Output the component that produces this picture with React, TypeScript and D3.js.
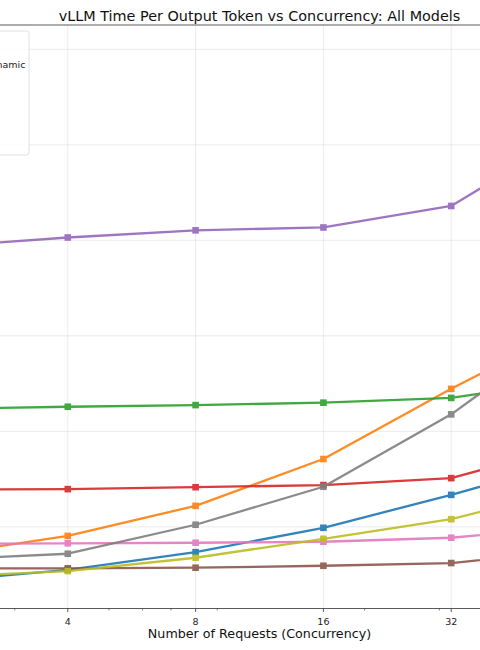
import React, { useEffect, useRef } from "react";
import * as d3 from "d3";

const concurrency = [2, 4, 8, 16, 32, 64];
const majorTicks = [2, 4, 8, 16, 32, 64];
const minorTicks = [3, 5, 6, 7, 9, 20, 30, 40, 50, 60];
const yTicks = [20, 40, 60, 80, 100, 120];

const seriesNames = [
  "Llama-3B",
  "Qwen3-8B",
  "Llama-8B-Dynamic",
  "Mistral-24B",
  "Llama-70B",
  "Qwen3-0.6B",
  "Phi-4-mini",
  "Qwen3-14B",
  "Gemma-4B",
];
const seriesColors = [
  "#1f77b4", "#ff7f0e", "#2ca02c", "#d62728", "#9467bd",
  "#8c564b", "#e377c2", "#7f7f7f", "#bcbd22",
];
const blueVals = [8.6, 11.0, 14.7, 19.8, 26.7, 34.3];
const orangeVals = [14.1, 18.1, 24.4, 34.2, 48.9, 62.7];
const greenVals = [44.7, 45.15, 45.5, 46.0, 47.0, 51.0];
const redVals = [27.8, 27.9, 28.3, 28.75, 30.2, 37.6];
const purpleVals = [78.7, 80.6, 82.1, 82.7, 87.2, 103.3];
const brownVals = [11.27, 11.31, 11.44, 11.85, 12.42, 15.2];
const pinkVals = [16.44, 16.55, 16.67, 16.88, 17.72, 20.2];
const grayVals = [13.1, 14.37, 20.44, 28.4, 43.56, 63.0];
const oliveVals = [9.5, 10.74, 13.53, 17.5, 21.6, 28.4];
const allSeries = [blueVals, orangeVals, greenVals, redVals, purpleVals, brownVals, pinkVals, grayVals, oliveVals];

const W = 480;
const H = 650;
const FONT = "DejaVu Sans, sans-serif";

export default function App() {
  const ref = useRef<SVGSVGElement | null>(null);

  useEffect(() => {
    const svg = d3.select(ref.current);
    svg.selectAll("*").remove();

    const left = -92, right = 611, top = 25, bottom = 608.5;
    const x = d3.scaleLog().base(2)
      .domain([2 * Math.pow(2, -0.25), 64 * Math.pow(2, 0.25)])
      .range([left, right]);
    const y = d3.scaleLinear().domain([2.9, 125.1]).range([bottom, top]);

    svg.append("rect").attr("x", 0).attr("y", 0).attr("width", W).attr("height", H).attr("fill", "#fff");

    // grid
    const grid = svg.append("g");
    majorTicks.forEach((t) => {
      grid.append("line").attr("x1", x(t)).attr("x2", x(t)).attr("y1", top).attr("y2", bottom)
        .attr("stroke", "#b0b0b0").attr("stroke-opacity", 0.3).attr("stroke-width", 0.8);
    });
    yTicks.forEach((t) => {
      grid.append("line").attr("x1", left).attr("x2", right).attr("y1", y(t)).attr("y2", y(t))
        .attr("stroke", "#b0b0b0").attr("stroke-opacity", 0.3).attr("stroke-width", 0.8);
    });

    // lines
    const line = d3.line<number>().x((_, i) => x(concurrency[i])).y((d) => y(d));
    allSeries.forEach((vals, si) => {
      const g = svg.append("g").attr("opacity", 0.9);
      g.append("path").attr("d", line(vals) as string).attr("fill", "none")
        .attr("stroke", seriesColors[si]).attr("stroke-width", 2.3).attr("stroke-linejoin", "round");
      vals.forEach((v, i) => {
        g.append("rect").attr("x", x(concurrency[i]) - 3.3).attr("y", y(v) - 3.3)
          .attr("width", 6.6).attr("height", 6.6).attr("fill", seriesColors[si]);
      });
    });

    // spines
    svg.append("rect").attr("x", left).attr("y", top).attr("width", right - left).attr("height", bottom - top)
      .attr("fill", "none").attr("stroke", "#333").attr("stroke-width", 0.8);

    // x ticks
    const ax = svg.append("g").attr("font-family", FONT).attr("font-size", 9.5).attr("fill", "#222");
    majorTicks.forEach((t) => {
      ax.append("line").attr("x1", x(t)).attr("x2", x(t)).attr("y1", bottom).attr("y2", bottom + 3.5)
        .attr("stroke", "#333").attr("stroke-width", 0.8);
      ax.append("text").attr("x", x(t)).attr("y", bottom + 16).attr("text-anchor", "middle").text(String(t));
    });
    minorTicks.forEach((t) => {
      ax.append("line").attr("x1", x(t)).attr("x2", x(t)).attr("y1", bottom).attr("y2", bottom + 2)
        .attr("stroke", "#333").attr("stroke-width", 0.6);
    });
    // y ticks (left of the visible frame)
    yTicks.forEach((t) => {
      ax.append("line").attr("x1", left - 3.5).attr("x2", left).attr("y1", y(t)).attr("y2", y(t))
        .attr("stroke", "#333").attr("stroke-width", 0.8);
      ax.append("text").attr("x", left - 6).attr("y", y(t) + 3.5).attr("text-anchor", "end").text(String(t));
    });

    svg.append("text").attr("x", (left + right) / 2).attr("y", 638).attr("text-anchor", "middle")
      .attr("font-family", FONT).attr("font-size", 12.7).attr("fill", "#111")
      .text("Number of Requests (Concurrency)");

    svg.append("text").attr("x", (left + right) / 2).attr("y", 21).attr("text-anchor", "middle")
      .attr("font-family", FONT).attr("font-size", 14.4).attr("fill", "#111")
      .text("vLLM Time Per Output Token vs Concurrency: All Models");

    // legend
    const lg = svg.append("g").attr("font-family", FONT).attr("font-size", 9.5);
    lg.append("rect").attr("x", -87).attr("y", 31).attr("width", 116).attr("height", 124).attr("rx", 2.5)
      .attr("fill", "#fff").attr("fill-opacity", 0.8).attr("stroke", "#d8d8d8").attr("stroke-width", 0.8);
    const textX = -64.7;
    seriesNames.forEach((name, i) => {
      const cy = 38.6 + i * 13.2;
      lg.append("line").attr("x1", textX - 28).attr("x2", textX - 8).attr("y1", cy).attr("y2", cy)
        .attr("stroke", seriesColors[i]).attr("stroke-width", 2);
      lg.append("rect").attr("x", textX - 21).attr("y", cy - 3).attr("width", 6).attr("height", 6).attr("fill", seriesColors[i]);
      lg.append("text").attr("x", textX).attr("y", cy + 3.4).attr("fill", "#222").text(name);
    });
  }, []);

  return (
    <svg ref={ref} width={W} height={H}
      style={{ position: "absolute", left: 0, top: 0, display: "block" }} />
  );
}
